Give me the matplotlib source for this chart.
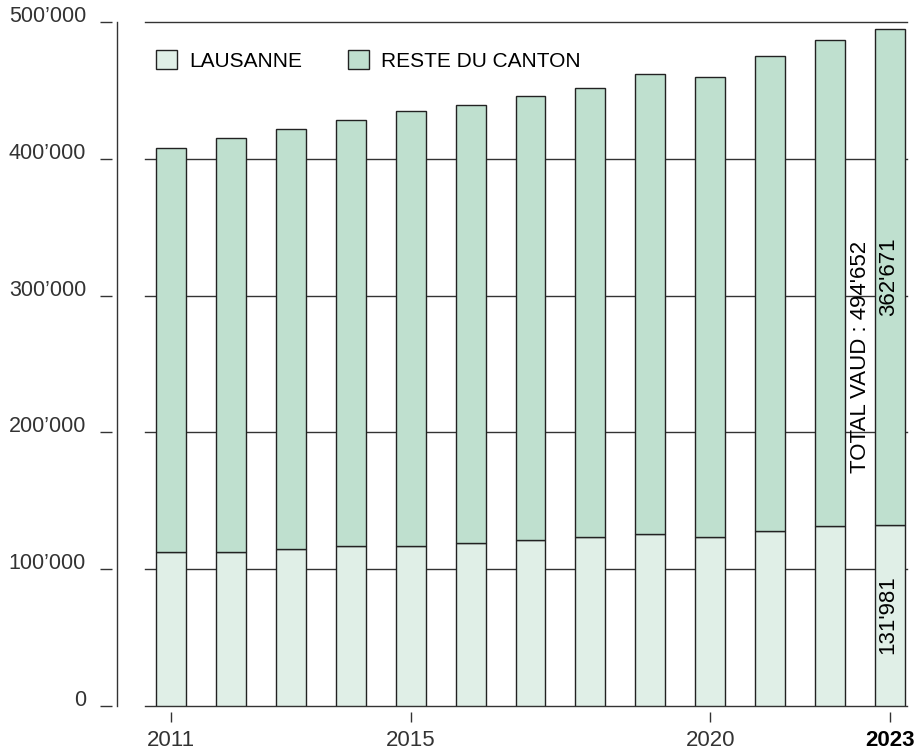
import matplotlib

matplotlib.use("Agg")
import matplotlib.pyplot as plt
from matplotlib.lines import Line2D

plt.rcParams["font.family"] = ["Liberation Sans", "DejaVu Sans"]

years = [2011, 2012, 2013, 2014, 2015, 2016, 2017, 2018, 2019, 2020, 2021, 2022, 2023]
# total du canton et part de Lausanne (2023 exact)
total = [408000, 415000, 422000, 428000, 435000, 439000, 446000, 452000,
         462000, 460000, 475000, 487000, 494652]
lausanne = [112600, 112600, 114800, 117000, 117000, 119000, 121000, 123500,
            125700, 123500, 128000, 131600, 131981]
reste = [t - l for t, l in zip(total, lausanne)]

y_ticks = [0, 100000, 200000, 300000, 400000, 500000]
y_labels = ["0", "100’000", "200’000", "300’000", "400’000", "500’000"]
x_ticks = [2011, 2015, 2020, 2023]

C_LAUS = "#e0efe7"
C_RESTE = "#bfe0cf"
EDGE = "#222222"
LINE = "#333333"

fig = plt.figure(figsize=(9.23, 7.51), dpi=100)
ax = fig.add_axes([145 / 923, 45 / 751, 762 / 923, 684 / 751])

b1 = ax.bar(years, lausanne, width=0.5, color=C_LAUS, edgecolor=EDGE, linewidth=1, zorder=2,
            label="LAUSANNE")
b2 = ax.bar(years, reste, bottom=lausanne, width=0.5, color=C_RESTE, edgecolor=EDGE,
            linewidth=1, zorder=2, label="RESTE DU CANTON")

for v in y_ticks:
    ax.axhline(v, color=LINE, linewidth=1, zorder=1, clip_on=False)

ax.set_xlim(2010.566, 2023.284)
ax.set_ylim(0, 500000)

for s in ["top", "right"]:
    ax.spines[s].set_visible(False)
ax.spines["left"].set_position(("outward", 23.8))
ax.spines["left"].set_visible(False)
ax.spines["bottom"].set_position(("outward", 4.3))
ax.spines["bottom"].set_visible(False)

ax.set_yticks(y_ticks)
ax.set_yticklabels(y_labels, fontsize=15.5, color="#333333")
for lab in ax.get_yticklabels():
    lab.set_verticalalignment("baseline")
ax.tick_params(axis="y", length=8.6, width=1, color=LINE, pad=10)

ax.set_xticks(x_ticks)
ax.set_xticklabels([str(x) for x in x_ticks], fontsize=16, color="#333333")
ax.get_xticklabels()[-1].set_fontweight("bold")
ax.get_xticklabels()[-1].set_color("black")
ax.tick_params(axis="x", length=7.2, width=1, color=LINE, pad=6)

# axe vertical décalé
fig.add_artist(Line2D([117 / 923, 117 / 923], [45 / 751, 729 / 751], color=LINE, linewidth=1))

ax.legend(handles=[b1, b2], loc="center left", bbox_to_anchor=(0.0144, 0.944), ncol=2,
          frameon=False, fontsize=15, handlelength=1.0, handleheight=1.0,
          handletextpad=0.6, columnspacing=2.2, borderpad=0, borderaxespad=0)

last = years[-1]
ax.text(last - 0.5, 255000, f"TOTAL VAUD : {total[-1]:,}".replace(",", "'"), rotation=90,
        ha="center", va="center", fontsize=16, color="black", zorder=3)
ax.text(last - 0.03, 314000, f"{reste[-1]:,}".replace(",", "'"), rotation=90,
        ha="center", va="center", fontsize=16, color="black", zorder=3)
ax.text(last - 0.03, 66500, f"{lausanne[-1]:,}".replace(",", "'"), rotation=90,
        ha="center", va="center", fontsize=16, color="black", zorder=3)

fig.savefig("out.png", dpi=100)
